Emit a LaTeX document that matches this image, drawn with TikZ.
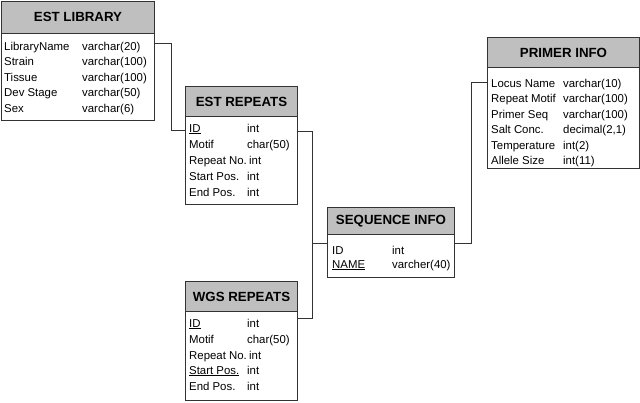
\documentclass[tikz,border=0pt]{standalone}
\usepackage{fontspec}
\setmainfont{Liberation Sans}
\begin{document}
\begin{tikzpicture}[x=1pt,y=-1pt,
  hdr/.style={draw=black!80,fill=black!25,line width=1pt,inner sep=0pt,anchor=north west,font=\fontsize{13.3}{13}\selectfont\bfseries},
  bodybox/.style={draw=black!80,fill=white,line width=1pt,inner sep=0pt,anchor=north west},
  fld/.style={anchor=base west,inner sep=0pt,font=\fontsize{11.4}{11}\selectfont},
  conn/.style={draw=black!80,line width=0.9pt}]
\useasboundingbox (0,0) rectangle (640,402);
% EST LIBRARY
\node[bodybox,minimum width=153pt,minimum height=88pt] (libb) at (1,32) {};
\node[hdr,minimum width=153pt,minimum height=32pt] (libh) at (1,0.5) {EST LIBRARY};
\node[fld] (lib1) at (4,50) {LibraryName};
\node[fld] (lib2) at (4,65.5) {Strain};
\node[fld] (lib3) at (4,81) {Tissue};
\node[fld] (lib4) at (4,96.5) {Dev Stage};
\node[fld] (lib5) at (4,112) {Sex};
\node[fld] (lib1t) at (82,50) {varchar(20)};
\node[fld] (lib2t) at (82,65.5) {varchar(100)};
\node[fld] (lib3t) at (82,81) {varchar(100)};
\node[fld] (lib4t) at (82,96.5) {varchar(50)};
\node[fld] (lib5t) at (82,112) {varchar(6)};
% EST REPEATS
\node[bodybox,minimum width=112pt,minimum height=88pt] (erb) at (185,116) {};
\node[hdr,minimum width=112pt,minimum height=30pt] (erh) at (185,86) {EST REPEATS};
\node[fld] (er1) at (189,132) {\underline{ID}};
\node[fld] (er2) at (189,148) {Motif};
\node[fld] (er3) at (189,164) {Repeat No.};
\node[fld] (er4) at (189,180) {Start Pos.};
\node[fld] (er5) at (189,196) {End Pos.};
\node[fld] (er1t) at (247,132) {int};
\node[fld] (er2t) at (247,148) {char(50)};
\node[fld] (er3t) at (249,164) {int};
\node[fld] (er4t) at (247,180) {int};
\node[fld] (er5t) at (247,196) {int};
% WGS REPEATS
\node[bodybox,minimum width=112pt,minimum height=89pt] (wgb) at (185,311) {};
\node[hdr,minimum width=112pt,minimum height=30pt] (wgh) at (185,281) {WGS REPEATS};
\node[fld] (wg1) at (189,327) {\underline{ID}};
\node[fld] (wg2) at (189,343) {Motif};
\node[fld] (wg3) at (189,359) {Repeat No.};
\node[fld] (wg4) at (189,374) {\underline{Start Pos.}};
\node[fld] (wg5) at (189,390) {End Pos.};
\node[fld] (wg1t) at (247,327) {int};
\node[fld] (wg2t) at (247,343) {char(50)};
\node[fld] (wg3t) at (249,359) {int};
\node[fld] (wg4t) at (247,374) {int};
\node[fld] (wg5t) at (247,390) {int};
% SEQUENCE INFO
\node[bodybox,minimum width=127pt,minimum height=43pt] (sqb) at (327,234) {};
\node[hdr,minimum width=127pt,minimum height=27pt] (sqh) at (327,207) {SEQUENCE INFO};
\node[fld] (sq1) at (332,254) {ID};
\node[fld] (sq2) at (332,268) {\underline{NAME}};
\node[fld] (sq1t) at (392,254) {int};
\node[fld] (sq2t) at (392,268) {varcher(40)};
% PRIMER INFO
\node[bodybox,minimum width=152pt,minimum height=101pt] (prb) at (487,67) {};
\node[hdr,minimum width=152pt,minimum height=30pt] (prh) at (487,37) {PRIMER INFO};
\node[fld] (pr1) at (491,87) {Locus Name};
\node[fld] (pr2) at (491,102.5) {Repeat Motif};
\node[fld] (pr3) at (491,118) {Primer Seq};
\node[fld] (pr4) at (491,133.5) {Salt Conc.};
\node[fld] (pr5) at (491,149) {Temperature};
\node[fld] (pr6) at (491,164.5) {Allele Size};
\node[fld] (pr1t) at (563,87) {varchar(10)};
\node[fld] (pr2t) at (563,102.5) {varchar(100)};
\node[fld] (pr3t) at (563,118) {varchar(100)};
\node[fld] (pr4t) at (563,133.5) {decimal(2,1)};
\node[fld] (pr5t) at (563,149) {int(2)};
\node[fld] (pr6t) at (563,164.5) {int(11)};
% connectors
\coordinate (c1a) at (libb.east |- 0,43);
\coordinate (c1b) at (erb.west |- 0,130);
\draw[conn] (c1a) -- (171,43) |- (c1b);
\coordinate (c2a) at (erb.east |- 0,131);
\coordinate (c2b) at (wgb.east |- 0,318);
\coordinate (c2c) at (sqb.west |- 0,243);
\draw[conn] (c2a) -- (312,131) |- (c2b);
\draw[conn] (312,243) -- (c2c);
\coordinate (c3a) at (sqb.east |- 0,243);
\coordinate (c3b) at (prb.west |- 0,82);
\draw[conn] (c3a) -- (471,243) |- (c3b);
\end{tikzpicture}
\end{document}
